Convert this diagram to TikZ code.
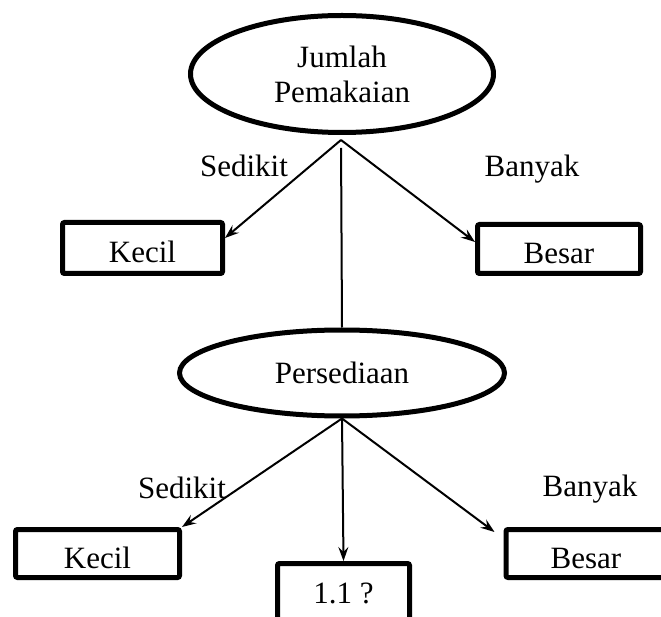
\documentclass[tikz,border=0pt]{standalone}
\usepackage{fontspec}
\setmainfont{Liberation Serif}
\usetikzlibrary{shapes.geometric,arrows.meta}

\begin{document}
\begin{tikzpicture}[
    x=1pt, y=-1pt,
    font=\fontsize{31}{35}\selectfont,
    oval/.style={ellipse, draw, line width=5pt, inner sep=0pt},
    block/.style={rectangle, draw, line width=5pt, rounded corners=2pt, text height=30pt, text depth=0pt, inner sep=0pt},
    arrow/.style={line width=2pt,-{Stealth[length=14pt,width=10pt,inset=5pt]}},
    line/.style={line width=2pt},
    lbl/.style={anchor=base, inner sep=0pt}
]
\useasboundingbox (0,0) rectangle (661,617);

\node [oval, minimum width=303pt, minimum height=117pt, align=center] (jumlah) at (342,74) {Jumlah\\Pemakaian};
\node [oval, minimum width=325pt, minimum height=86pt] (persediaan) at (342,373) {Persediaan};

\node [block, minimum width=160pt, minimum height=51pt] (kecilA) at (142.5,248) {Kecil};
\node [block, minimum width=163pt, minimum height=49pt] (besarA) at (559,249) {Besar};
\node [block, minimum width=164pt, minimum height=48pt] (kecilB) at (97.5,553.5) {Kecil};
\node [block, minimum width=160pt, minimum height=48pt] (besarB) at (586,553.5) {Besar};
\node [block, minimum width=132pt, minimum height=59pt, text height=20pt] (tanya) at (343.5,593) {1.1 ?};

\node [lbl] (sedikitA) at (244,177) {Sedikit};
\node [lbl] (banyakA) at (532,177) {Banyak};
\node [lbl] (sedikitB) at (182,498) {Sedikit};
\node [lbl] (banyakB) at (590,496) {Banyak};

\coordinate (jsplit) at (341,140);

\draw [arrow] (jsplit) -- ([yshift=10pt]kecilA.east);
\draw [arrow] (jsplit) -- ([yshift=7pt]besarA.west);
\draw [line, shorten <=8pt] (jsplit) -- (persediaan.north);
\draw [arrow] (persediaan.south) -- (kecilB.north east);
\draw [arrow] (persediaan.south) -- (tanya.north);
\draw [arrow] (persediaan.south) -- ([shift={(-9,5)}]besarB.north west);

\end{tikzpicture}
\end{document}
